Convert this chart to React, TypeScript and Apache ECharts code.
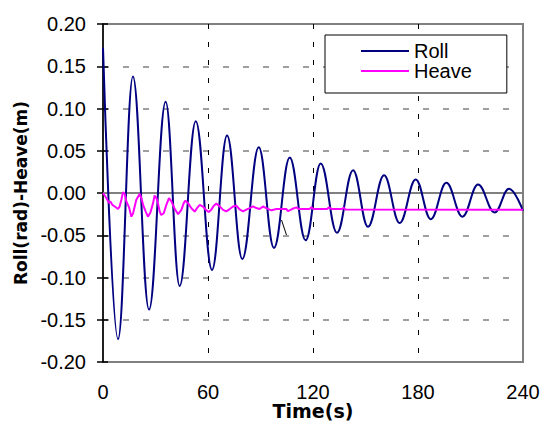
import { useEffect, useRef } from "react";
import * as echarts from "echarts";

// Axis definitions
const xMin = 0;
const xMax = 240;
const xStep = 60;
const yMin = -0.2;
const yMax = 0.2;
const yStep = 0.05;

// Roll (rad): peaks and troughs
const rollTime = [0, 8.6, 17.1, 26.3, 35.8, 43.8, 53.0, 62.3, 70.9, 79.6, 89.0, 97.7, 106.7, 115.8, 124.4, 133.7, 142.9, 151.4, 160.6, 169.5, 178.7, 187.3, 196.2, 205.4, 214.3, 223.8, 232.0, 240];
const rollValue = [0.172, -0.173, 0.138, -0.138, 0.108, -0.11, 0.085, -0.091, 0.068, -0.078, 0.054, -0.065, 0.042, -0.056, 0.035, -0.047, 0.027, -0.04, 0.021, -0.0355, 0.016, -0.031, 0.012, -0.028, 0.01, -0.023, 0.005, -0.021];

// Heave (m)
const heaveTime = [0, 1.9, 3.45, 4.2, 5.35, 6.7, 8.6, 9.5, 10.5, 11.4, 12.4, 13.35, 14.9, 16.2, 17.2, 18.1, 19.05, 21.0, 21.9, 22.9, 24.4, 25.7, 27.1, 28.6, 29.5, 30.5, 31.4, 32.4, 33.3, 34.7, 36.2, 37.7, 39.1, 41.0, 42.9, 44.8, 46.1, 47.1, 48.6, 50.5, 52.4, 53.7, 55.3, 57.1, 59.1, 60.4, 61.9, 63.3, 64.8, 66.7, 68.6, 70.5, 72.4, 74.3, 76.2, 78.1, 80.0, 81.9, 83.8, 85.7, 87.6, 89.5, 91.4, 93.3, 96.2, 99.1, 101.9, 104.8, 105.7, 108.0, 110.5, 112.0, 118.0, 119.0, 120.5, 128.0, 129.2, 130.5, 136.5, 137.5, 138.5, 240];
const heaveValue = [0, -0.006, -0.012, -0.01, -0.014, -0.016, -0.019, -0.016, -0.008, 0.001, -0.001, -0.01, -0.017, -0.028, -0.024, -0.016, -0.008, -0.001, -0.006, -0.014, -0.022, -0.028, -0.023, -0.012, -0.003, -0.006, -0.012, -0.022, -0.026, -0.024, -0.014, -0.006, -0.01, -0.019, -0.025, -0.02, -0.012, -0.009, -0.012, -0.018, -0.022, -0.018, -0.014, -0.016, -0.0205, -0.0225, -0.0197, -0.015, -0.0126, -0.0158, -0.02, -0.0217, -0.019, -0.016, -0.015, -0.0195, -0.0217, -0.0197, -0.0178, -0.0158, -0.0178, -0.019, -0.016, -0.0178, -0.0205, -0.019, -0.019, -0.019, -0.0215, -0.019, -0.017, -0.019, -0.019, -0.017, -0.019, -0.019, -0.017, -0.019, -0.019, -0.0175, -0.0195, -0.0198];

// Horizontal axis line through 0
const zeroTime = [xMin, xMax];
const zeroValue = [0, 0];

const pairs = (t: number[], v: number[]) => t.map((x, i) => [x, v[i]]);

const tickFont = { fontSize: 20, fontFamily: "Liberation Sans", color: "#000" };

export default function App() {
  const ref = useRef<HTMLDivElement>(null);
  useEffect(() => {
    if (!ref.current) return;
    const chart = echarts.init(ref.current, null, { renderer: "svg" });
    chart.setOption({
      animation: false,
      backgroundColor: "#ffffff",
      grid: {
        left: 103,
        right: 24,
        top: 24,
        bottom: 59,
        containLabel: false,
        outerBoundsMode: "none",
        show: true,
        borderColor: "#808080",
        borderWidth: 2,
        backgroundColor: "transparent",
      },
      legend: {
        data: ["Roll", "Heave"],
        orient: "vertical",
        left: 325,
        top: 35,
        padding: [6, 35, 12, 36],
        itemGap: 0,
        itemWidth: 48,
        itemHeight: 2,
        icon: "rect",
        borderColor: "#000",
        borderWidth: 1,
        backgroundColor: "#fff",
        textStyle: { ...tickFont, lineHeight: 20 },
      },
      xAxis: {
        type: "value",
        min: xMin,
        max: xMax,
        interval: xStep,
        name: "Time(s)",
        nameLocation: "middle",
        nameGap: 41.5,
        nameMoveOverlap: false,
        nameTextStyle: { fontFamily: "DejaVu Sans", fontWeight: "bold", fontSize: 19, lineHeight: 15, color: "#000" },
        axisLine: { show: false, onZero: false },
        axisTick: { show: false },
        axisLabel: { ...tickFont, lineHeight: 16, margin: 21.5 },
        splitLine: {
          show: true,
          showMinLine: false,
          showMaxLine: false,
          lineStyle: { color: "#000", width: 1, type: [5, 13] },
        },
      },
      yAxis: [
        {
          type: "value",
          min: yMin,
          max: yMax,
          interval: yStep,
          name: "Roll(rad)-Heave(m)",
          nameLocation: "middle",
          nameRotate: 90,
          nameGap: 74,
          nameMoveOverlap: false,
          nameTextStyle: { fontFamily: "DejaVu Sans", fontWeight: "bold", fontSize: 17, color: "#000" },
          axisLine: { show: true, onZero: false, lineStyle: { color: "#000", width: 1.5 } },
          axisTick: { show: true, length: 6, lineStyle: { color: "#000", width: 1.5 } },
          axisLabel: { ...tickFont, margin: 17, formatter: (v: number) => v.toFixed(2) },
          splitLine: {
            show: true,
            showMinLine: false,
            showMaxLine: false,
            lineStyle: { color: "#808080", width: 1.5, type: [6, 14] },
          },
        },
        {
          type: "value",
          min: yMin,
          max: yMax,
          interval: yStep,
          position: "left",
          axisLine: { show: false, onZero: false },
          axisLabel: { show: false },
          splitLine: { show: false },
          axisTick: { show: true, inside: true, length: 5, lineStyle: { color: "#000", width: 1.5 } },
        },
      ],
      graphic: [
        {
          type: "line",
          shape: { x1: 281.5, y1: 220, x2: 286.5, y2: 235 },
          style: { stroke: "#000", lineWidth: 1 },
          z: 10,
        },
      ],
      series: [
        {
          name: "zero",
          type: "line",
          data: pairs(zeroTime, zeroValue),
          symbol: "none",
          silent: true,
          z: 1,
          lineStyle: { color: "#808080", width: 2 },
        },
        {
          name: "Roll",
          type: "line",
          data: pairs(rollTime, rollValue),
          symbol: "none",
          smooth: 0.4,
          smoothMonotone: "x",
          z: 3,
          itemStyle: { color: "#000080" },
          lineStyle: { color: "#000080", width: 2 },
        },
        {
          name: "Heave",
          type: "line",
          data: pairs(heaveTime, heaveValue),
          symbol: "none",
          z: 4,
          itemStyle: { color: "#FF00FF" },
          lineStyle: { color: "#FF00FF", width: 2 },
        },
      ],
    });
    return () => chart.dispose();
  }, []);
  return <div ref={ref} style={{ position: "fixed", left: 0, top: 0, width: 547, height: 421 }} />;
}
